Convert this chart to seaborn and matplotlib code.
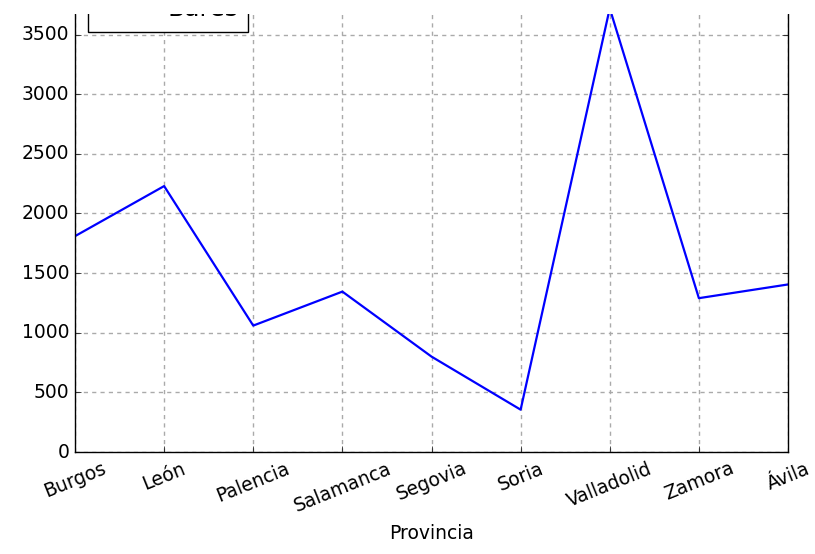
import matplotlib
matplotlib.use('Agg')
import matplotlib.pyplot as plt
from matplotlib.patches import Rectangle
import pandas as pd
import seaborn as sns

provincias = ['Burgos', 'León', 'Palencia', 'Salamanca', 'Segovia',
              'Soria', 'Valladolid', 'Zamora', 'Ávila']
bares = [1810, 2230, 1060, 1345, 800, 355, 3720, 1290, 1405]
y_ticks = [0, 500, 1000, 1500, 2000, 2500, 3000, 3500, 4000]

plt.style.use('classic')
plt.rcParams['font.family'] = ['DejaVu Sans']

df = pd.DataFrame({'Provincia': provincias, 'Bares': bares})

fig = plt.figure(figsize=(8.15, 5.54), dpi=100, facecolor='white')
# axes runs past the top edge, the original picture was cropped there
ax = fig.add_axes([75 / 815, 102 / 554, 713 / 815, 477 / 554])
ax.set_facecolor('white')
ax.set_axisbelow(True)

sns.lineplot(data=df, x='Provincia', y='Bares', sort=False, color='b',
             linewidth=1.6, label='Bares', ax=ax)

ax.set_xlim(0, len(provincias) - 1)
ax.set_ylim(y_ticks[0], y_ticks[-1])
ax.set_yticks(y_ticks)
ax.set_xticks(range(len(provincias)))
ax.set_xticklabels(provincias, rotation=22, ha='center', fontsize=13.5)
ax.tick_params(axis='y', labelsize=13.5)
ax.tick_params(axis='x', pad=5)
ax.set_xlabel('Provincia', fontsize=13.5, labelpad=6)
ax.set_ylabel('')
ax.grid(True, color='#aaaaaa', linestyle=(0, (3, 3)), linewidth=1)

ax.legend(loc='upper left', fontsize=18, fancybox=False, frameon=True,
          borderaxespad=0.5, handlelength=2.0, handletextpad=0.8, borderpad=0.4)

# white band over the top, as in the cropped reference
fig.add_artist(Rectangle((0, 1 - 14 / 554), 1, 14 / 554, transform=fig.transFigure,
                         facecolor='white', edgecolor='none', zorder=100))

fig.savefig('out.png', dpi=100, facecolor='white')
